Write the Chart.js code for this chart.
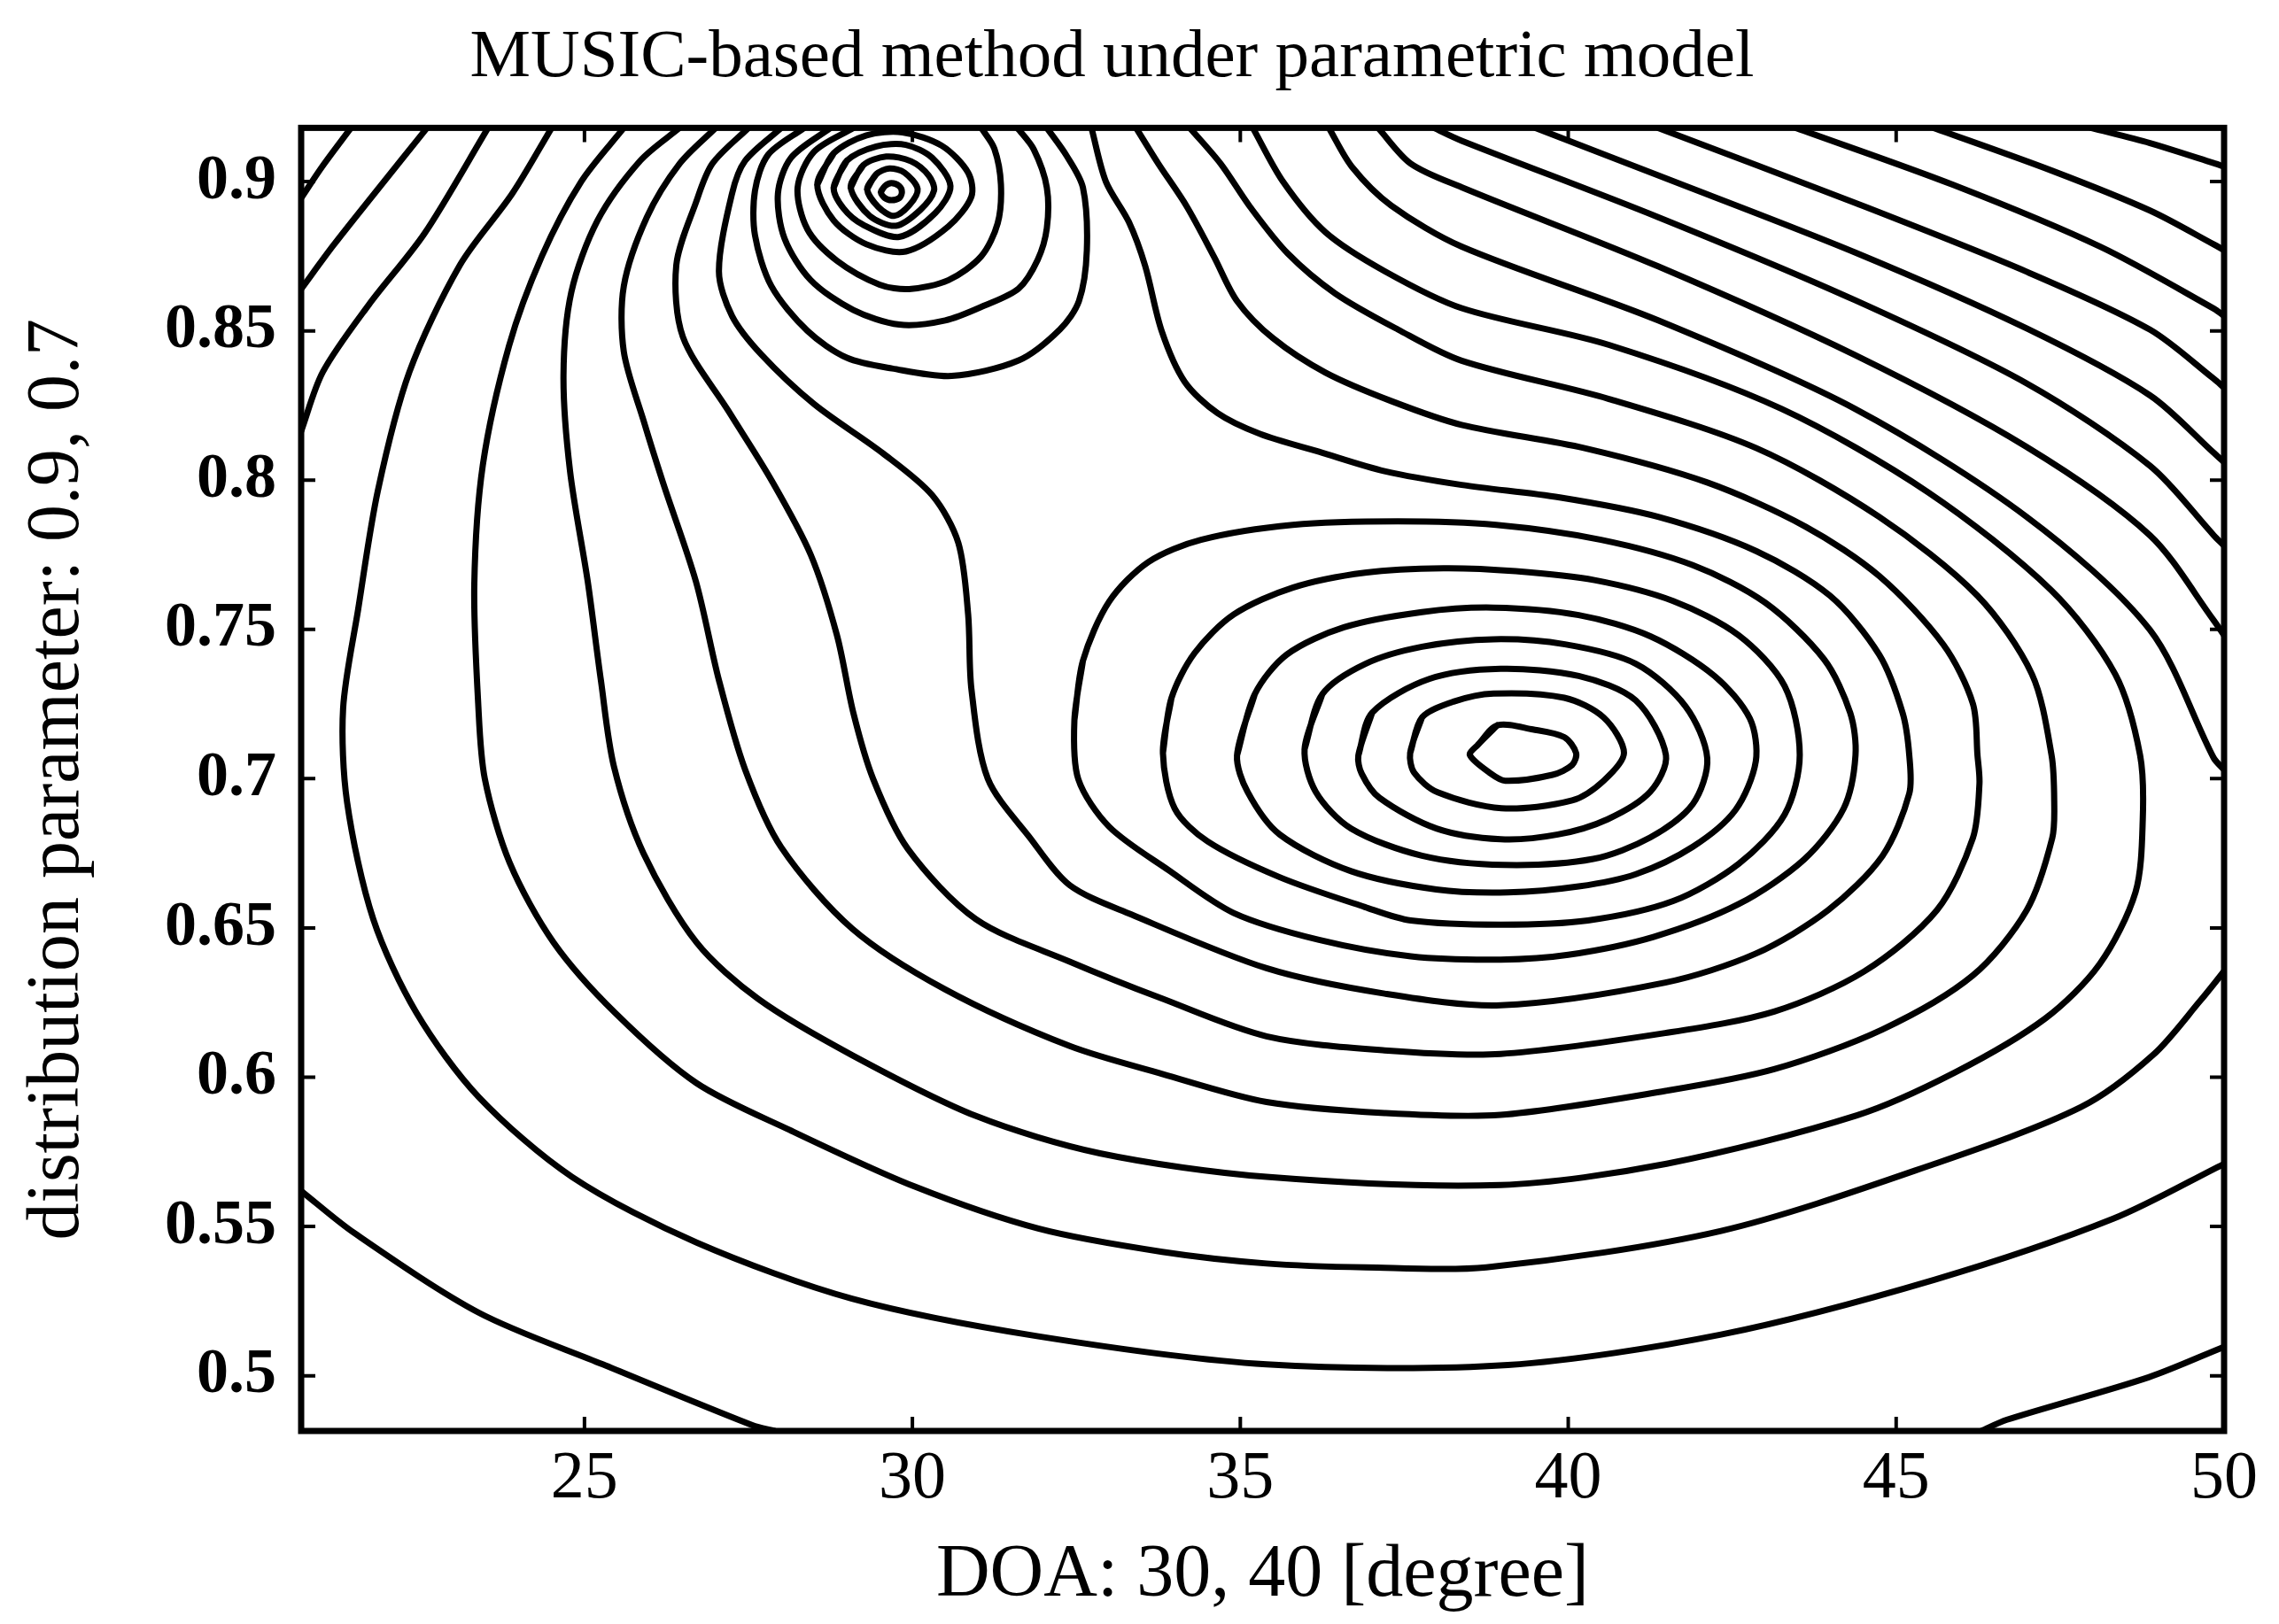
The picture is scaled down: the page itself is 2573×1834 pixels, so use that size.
<!DOCTYPE html>
<html>
<head>
<meta charset="utf-8">
<script src="https://cdn.jsdelivr.net/npm/chart.js@4.4.1/dist/chart.umd.min.js"></script>
<style>
html,body{margin:0;padding:0;background:#fff;overflow:hidden;}
#wrap{width:2573px;height:1834px;position:relative;background:#fff;}
</style>
</head>
<body>
<div id="wrap"><canvas id="c"></canvas></div>
<script>
// ---------- axis data ----------
const TITLE = 'MUSIC-based method under parametric model';
const X_TITLE = 'DOA: 30, 40 [degree]';
const Y_TITLE = 'distribution parameter: 0.9, 0.7';
const X_MIN = 20.68, X_MAX = 50;
const Y_MIN = 0.4815, Y_MAX = 0.918;
const X_TICKS = [25, 30, 35, 40, 45, 50];
const Y_TICKS = [0.5, 0.55, 0.6, 0.65, 0.7, 0.75, 0.8, 0.85, 0.9];

// ---------- contour lines: [DOA, parameter] ----------
// closed rings around the peak near (30, 0.9)
const p1Ring1 = [[29.52,0.8965],[29.58,0.8985],[29.68,0.8995],[29.8,0.8985],[29.84,0.8965],[29.8,0.8945],[29.68,0.8938],[29.58,0.8945]];
const p1Ring2 = [[29.31,0.8975],[29.45,0.9025],[29.65,0.9044],[29.88,0.903],[30.08,0.8975],[29.95,0.892],[29.72,0.8885],[29.48,0.8915]];
const p1Ring3 = [[29.06,0.898],[29.25,0.9055],[29.6,0.9084],[29.98,0.9068],[30.25,0.902],[30.33,0.897],[30.12,0.8905],[29.75,0.8852],[29.35,0.8885]];
const p1Ring4 = [[28.8,0.898],[29.0,0.907],[29.45,0.9118],[29.9,0.9123],[30.3,0.908],[30.58,0.8985],[30.35,0.8895],[29.8,0.8815],[29.25,0.8855],[28.95,0.891]];
const p1Ring5 = [[28.55,0.899],[28.8,0.9095],[29.3,0.9155],[29.85,0.9165],[30.45,0.912],[30.85,0.903],[30.9,0.895],[30.55,0.885],[29.9,0.8766],[29.3,0.879],[28.8,0.887]];
// arcs around the same peak that meet the top edge
const p1Arc6 = [[29.1,0.918],[28.5,0.91],[28.25,0.898],[28.4,0.884],[28.85,0.8735],[29.5,0.8655],[29.95,0.864],[30.55,0.867],[31.05,0.875],[31.3,0.886],[31.35,0.899],[31.25,0.911],[31.05,0.918]];
const p1Arc7 = [[28.75,0.918],[28.15,0.908],[27.95,0.896],[28.05,0.881],[28.45,0.867],[29.1,0.857],[29.8,0.8521],[30.5,0.8535],[31.1,0.8585],[31.62,0.8642],[31.91,0.8738],[32.05,0.8844],[32.05,0.898],[31.85,0.9108],[31.6,0.918]];
const p1Arc8 = [[28.35,0.918],[27.8,0.909],[27.6,0.897],[27.6,0.882],[27.85,0.865],[28.4,0.85],[29.0,0.841],[29.69,0.8374],[30.6,0.8349],[31.62,0.8401],[32.25,0.8505],[32.54,0.86],[32.66,0.877],[32.6,0.898],[32.35,0.9087],[32.05,0.918]];

// closed rings around the peak near (39, 0.71)
const p2Ring1 = [[38.92,0.7179],[38.62,0.7113],[38.5,0.7079],[38.8,0.702],[39.04,0.6993],[39.76,0.7013],[40.06,0.7046],[40.12,0.7086],[39.94,0.7139],[39.46,0.7165]];
const p2Ring2 = [[37.59,0.7086],[37.77,0.7205],[38.25,0.7258],[38.86,0.7285],[39.94,0.7271],[40.54,0.7205],[40.85,0.7086],[40.54,0.6993],[40.06,0.6927],[38.98,0.6901],[38.01,0.6954],[37.65,0.702]];
const p2Ring3 = [[36.8,0.7078],[37.01,0.7221],[37.88,0.7334],[38.97,0.7368],[40.16,0.7344],[41.03,0.7262],[41.49,0.7078],[41.25,0.6956],[40.6,0.6864],[39.84,0.6813],[38.97,0.6797],[37.99,0.6833],[37.12,0.6936],[36.85,0.7017]];
const p2Ring4 = [[35.98,0.7099],[36.25,0.7283],[36.91,0.7385],[37.77,0.7442],[38.86,0.7467],[39.95,0.745],[41.03,0.7385],[41.79,0.7242],[42.12,0.7068],[41.9,0.6915],[41.25,0.6803],[40.38,0.6731],[39.02,0.6711],[37.77,0.6742],[36.69,0.6833],[36.15,0.6956]];
const p2Ring5 = [[34.95,0.7078],[35.22,0.7283],[35.71,0.7416],[36.58,0.7507],[37.77,0.7558],[38.86,0.7573],[40.16,0.7548],[41.25,0.7477],[42.23,0.7344],[42.77,0.7201],[42.86,0.7058],[42.55,0.6895],[41.9,0.6772],[41.03,0.668],[40.16,0.6639],[39.08,0.6619],[37.99,0.6629],[36.69,0.669],[35.6,0.6813],[35.11,0.6956]];
const p2Ring6 = [[33.82,0.7086],[33.95,0.727],[34.3,0.742],[34.9,0.755],[35.8,0.764],[36.9,0.769],[38.1,0.7705],[39.2,0.7695],[40.4,0.7665],[41.6,0.7595],[42.6,0.748],[43.3,0.731],[43.53,0.708],[43.3,0.688],[42.6,0.6715],[41.6,0.659],[40.3,0.6525],[38.97,0.6511],[37.6,0.6525],[36.9,0.657],[35.6,0.667],[34.5,0.679],[34.0,0.69]];
const p2Ring7 = [[32.47,0.7196],[32.6,0.7395],[33.0,0.7593],[33.6,0.7726],[34.4,0.78],[35.8,0.785],[37.4,0.7862],[38.9,0.785],[40.5,0.78],[41.9,0.7715],[43.0,0.759],[43.9,0.74],[44.3,0.722],[44.38,0.7078],[44.2,0.69],[43.6,0.673],[42.6,0.658],[41.3,0.647],[40.0,0.641],[38.97,0.6394],[37.6,0.6405],[36.2,0.646],[34.9,0.655],[33.91,0.6693],[33.0,0.6839],[32.53,0.6998]];

// contours that wrap around both peaks (top edge to top edge)
const level8 = [[28.0,0.918],[27.45,0.907],[27.25,0.896],[27.05,0.87],[27.25,0.855],[27.7,0.842],[28.5,0.8255],[29.55,0.809],[30.3,0.795],[30.7,0.779],[30.85,0.755],[30.9,0.73],[31.15,0.7],[31.8,0.68],[32.4,0.6643],[33.34,0.6545],[35.4,0.6365],[37.2,0.628],[38.97,0.6241],[41.48,0.6317],[42.86,0.6414],[43.96,0.6559],[44.79,0.6741],[45.2,0.695],[45.2,0.7078],[45.1,0.7219],[44.74,0.7416],[43.99,0.7613],[42.87,0.7762],[41.37,0.7877],[39.87,0.7942],[38.375,0.7984],[37.2,0.803],[36.2,0.8095],[35.3,0.8155],[34.65,0.8225],[34.15,0.833],[33.8,0.85],[33.55,0.8717],[33.3,0.8865],[32.95,0.9],[32.73,0.918]];
const level9 = [[27.5,0.918],[26.95,0.906],[26.7,0.893],[26.4,0.872],[26.5,0.848],[27.2,0.823],[27.85,0.8],[28.45,0.775],[28.85,0.748],[29.1,0.722],[29.4,0.7],[29.93,0.6765],[30.97,0.6529],[32.39,0.6388],[33.81,0.6263],[35.4,0.6137],[37.2,0.609],[38.97,0.6078],[41.48,0.6148],[43.14,0.622],[44.51,0.6354],[45.62,0.6559],[46.17,0.6801],[46.27,0.6983],[46.24,0.7078],[46.17,0.7251],[45.72,0.7449],[44.74,0.7679],[43.62,0.7844],[42.12,0.7992],[40.25,0.8107],[38.375,0.8185],[37.3,0.8265],[36.3,0.836],[35.5,0.8475],[34.95,0.86],[34.6,0.8748],[34.18,0.8918],[33.75,0.906],[33.41,0.918]];
const level10 = [[27.0,0.918],[26.45,0.906],[25.95,0.888],[25.6,0.865],[25.6,0.843],[25.9,0.82],[26.2,0.799],[26.7,0.766],[27.05,0.733],[27.45,0.703],[28.0,0.677],[29.08,0.6498],[30.5,0.6294],[32.39,0.6105],[33.81,0.6011],[35.4,0.5917],[37.2,0.588],[38.97,0.5874],[41.48,0.5954],[43.14,0.6027],[44.79,0.616],[46.17,0.6341],[46.99,0.6559],[47.38,0.6801],[47.41,0.6922],[47.37,0.7078],[47.07,0.735],[46.24,0.7613],[44.74,0.7877],[42.87,0.8107],[40.62,0.8272],[38.375,0.84],[37.4,0.8505],[36.45,0.8625],[35.72,0.876],[35.15,0.8915],[34.7,0.906],[34.23,0.918]];
const level11 = [[26.45,0.918],[25.85,0.907],[25.2,0.887],[24.8,0.863],[24.68,0.835],[24.78,0.803],[25.05,0.766],[25.25,0.733],[25.45,0.704],[25.9,0.675],[26.71,0.6451],[27.65,0.6262],[29.08,0.6074],[30.97,0.587],[32.86,0.5745],[35.4,0.5666],[38.97,0.5639],[41.5,0.571],[44.4,0.5872],[45.89,0.6015],[47.27,0.6196],[48.1,0.6378],[48.65,0.662],[48.76,0.6862],[48.72,0.7078],[48.34,0.735],[47.37,0.763],[45.49,0.7959],[43.25,0.8239],[40.62,0.8453],[38.375,0.8576],[37.2,0.87],[36.3,0.883],[35.65,0.9],[35.19,0.918]];
// contours clipped by the right edge (lower part / upper part)
const level12Low = [[25.6,0.918],[24.95,0.9],[24.35,0.875],[23.85,0.845],[23.45,0.805],[23.32,0.765],[23.38,0.725],[23.48,0.7],[23.86,0.6718],[24.53,0.6451],[25.47,0.6215],[26.71,0.598],[28.13,0.5823],[30.02,0.5635],[31.92,0.5493],[33.81,0.5415],[35.4,0.5376],[36.91,0.5363],[38.75,0.5363],[42.33,0.5485],[45.59,0.571],[47.82,0.59],[48.92,0.6075],[49.64,0.6257],[50,0.6355]];
const level12High = [[50,0.703],[49.84,0.707],[48.87,0.7498],[46.99,0.7877],[44.37,0.8239],[41.37,0.8535],[38.375,0.8782],[37.3,0.892],[36.7,0.905],[36.35,0.918]];
const level13Low = [[24.5,0.918],[23.9,0.896],[23.1,0.872],[22.33,0.8362],[21.85,0.7965],[21.55,0.7568],[21.32,0.7236],[21.38,0.6922],[21.78,0.6529],[22.44,0.6215],[23.39,0.5933],[24.81,0.5666],[26.71,0.5446],[29.08,0.5258],[31.92,0.5132],[35.4,0.5038],[39.08,0.5036],[42.33,0.5138],[45.59,0.5322],[48.31,0.5526],[50,0.571]];
const level13High = [[50,0.748],[49.84,0.7531],[48.87,0.7815],[46.99,0.8111],[44.37,0.8419],[41.37,0.8716],[38.375,0.8981],[37.6,0.906],[37.1,0.918]];
const level14Low = [[46.3,0.4815],[46.68,0.4852],[48.85,0.4995],[50,0.5097]];
const level14High = [[50,0.778],[49.84,0.7816],[48.87,0.8048],[46.99,0.8324],[44.37,0.8603],[41.37,0.8881],[38.375,0.9137],[37.95,0.918]];
// top-right corner lines
const level15 = [[39.5,0.918],[41.37,0.9021],[44.37,0.8763],[46.99,0.8508],[48.87,0.8284],[49.84,0.8092],[50,0.806]];
const level16 = [[41.37,0.918],[44.37,0.8929],[46.99,0.8698],[48.87,0.8504],[49.84,0.834],[50,0.831]];
const level17 = [[43.47,0.918],[45.87,0.8989],[48.12,0.8781],[49.84,0.8575],[50,0.855]];
const level18 = [[45.57,0.918],[47.37,0.9037],[48.87,0.8903],[49.84,0.879],[50,0.877]];
const level19 = [[47.97,0.918],[48.87,0.9129],[49.84,0.9062],[50,0.905]];
// top-left corner lines
const cornerTL1 = [[20.68,0.8945],[21.0,0.905],[21.44,0.918]];
const cornerTL2 = [[20.68,0.864],[21.17,0.8786],[21.79,0.8958],[22.6,0.918]];
const cornerTL3 = [[20.68,0.8164],[21.01,0.8362],[21.71,0.8587],[22.56,0.8826],[23.53,0.918]];
// bottom-left corner line
const cornerBL = [[20.68,0.5619],[21.49,0.5478],[23.39,0.5211],[25.28,0.5038],[27.56,0.4834],[27.9,0.4815]];

const CLOSED = [p1Ring1,p1Ring2,p1Ring3,p1Ring4,p1Ring5,p2Ring1,p2Ring2,p2Ring3,p2Ring4,p2Ring5,p2Ring6,p2Ring7];
const OPEN = [p1Arc6,p1Arc7,p1Arc8,level8,level9,level10,level11,level12Low,level12High,level13Low,level13High,level14Low,level14High,level15,level16,level17,level18,level19,cornerTL1,cornerTL2,cornerTL3,cornerBL];

// ---------- build datasets ----------
const toXY = pts => pts.map(p => ({x: p[0], y: p[1]}));
const lineStyle = {showLine: true, borderColor: '#000', backgroundColor: '#000', borderWidth: 7,
  pointRadius: 0, pointHoverRadius: 0, tension: 0.3, fill: false, borderCapStyle: 'round', borderJoinStyle: 'round'};
const datasets = [];
CLOSED.forEach(r => datasets.push(Object.assign({data: toXY(r.concat([r[0], r[1]]))}, lineStyle)));
OPEN.forEach(r => datasets.push(Object.assign({data: toXY(r)}, lineStyle)));

// frame with inward tick marks on all four sides (MATLAB box style)
const boxPlugin = {
  id: 'box',
  afterDatasetsDraw(chart) {
    const a = chart.chartArea, ctx = chart.ctx, xs = chart.scales.x, ys = chart.scales.y;
    ctx.save();
    ctx.strokeStyle = '#000';
    ctx.lineWidth = 4;
    const L = 16;
    ctx.beginPath();
    X_TICKS.forEach(v => {
      const px = xs.getPixelForValue(v);
      ctx.moveTo(px, a.bottom); ctx.lineTo(px, a.bottom - L);
      ctx.moveTo(px, a.top); ctx.lineTo(px, a.top + L);
    });
    Y_TICKS.forEach(v => {
      const py = ys.getPixelForValue(v);
      ctx.moveTo(a.left, py); ctx.lineTo(a.left + L, py);
      ctx.moveTo(a.right, py); ctx.lineTo(a.right - L, py);
    });
    ctx.stroke();
    ctx.lineWidth = 7;
    ctx.strokeRect(a.left, a.top, a.right - a.left, a.bottom - a.top);
    ctx.restore();
  }
};

const SERIF = "'Liberation Serif', 'Times New Roman', serif";

new Chart(document.getElementById('c'), {
  type: 'scatter',
  data: {datasets},
  options: {
    responsive: true,
    maintainAspectRatio: false,
    animation: false,
    events: [],
    layout: {padding: {left: 0, right: 62, top: 0, bottom: 0}},
    plugins: {
      legend: {display: false},
      tooltip: {enabled: false},
      title: {
        display: true, text: TITLE, color: '#000',
        font: {family: SERIF, size: 77, weight: 'normal'},
        padding: {top: 20, bottom: 32}
      }
    },
    scales: {
      x: {
        type: 'linear', position: 'bottom', min: X_MIN, max: X_MAX,
        afterBuildTicks: s => { s.ticks = X_TICKS.map(v => ({value: v})); },
        afterFit: s => { s.height = 218; },
        grid: {display: false, drawTicks: false},
        border: {display: false},
        ticks: {color: '#000', font: {family: SERIF, size: 76}, padding: 9, maxRotation: 0, autoSkip: false,
          callback: v => String(Number(Number(v).toFixed(2)))},
        title: {display: true, text: X_TITLE, color: '#000', font: {family: SERIF, size: 84}, padding: {top: 0, bottom: 4}}
      },
      y: {
        type: 'linear', min: Y_MIN, max: Y_MAX,
        afterBuildTicks: s => { s.ticks = Y_TICKS.map(v => ({value: v})); },
        afterFit: s => { s.width = 340; },
        grid: {display: false, drawTicks: false},
        border: {display: false},
        ticks: {color: '#000', font: {family: SERIF, size: 72, weight: 'bold'}, padding: 28, autoSkip: false,
          callback: v => String(Number(Number(v).toFixed(2)))},
        title: {display: true, text: Y_TITLE, color: '#000', font: {family: SERIF, size: 84}, padding: {top: 16, bottom: 0}}
      }
    }
  },
  plugins: [boxPlugin]
});
</script>
</body>
</html>
